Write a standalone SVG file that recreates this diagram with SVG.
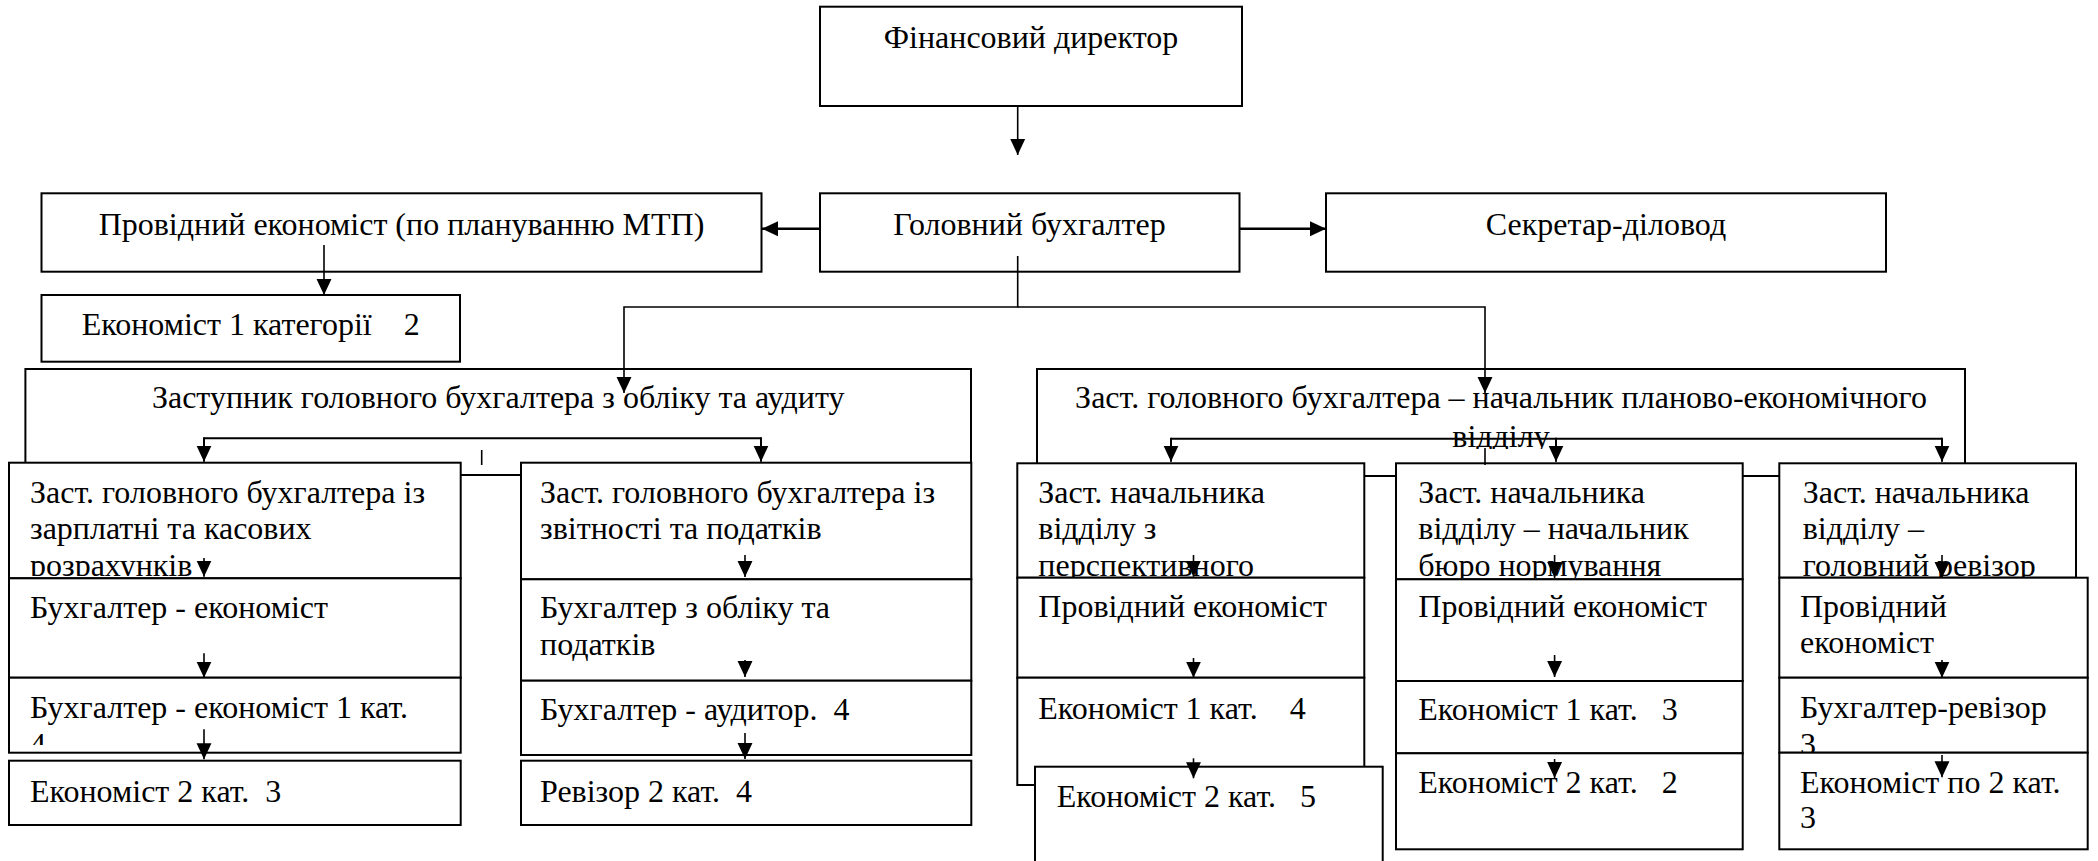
<svg xmlns="http://www.w3.org/2000/svg" width="2098" height="861" viewBox="0 0 2098 861">
<style>
.b{fill:#fff;stroke:#000;stroke-width:2}
.t{font-family:"Liberation Serif","Times New Roman","DejaVu Serif",serif;font-size:32px;fill:#000;white-space:pre}
.m{text-anchor:middle}
.c{fill:none;stroke:#000;stroke-width:1.6}
</style>
<defs>
<marker id="ah" markerUnits="userSpaceOnUse" markerWidth="16" markerHeight="16" viewBox="0 -7 15 14" refX="15" refY="0" orient="auto">
<path d="M0,-7 L15,0 L0,7 z" fill="#000"/>
</marker>
<clipPath id="cL1"><rect x="9" y="462" width="452" height="114"/></clipPath>
<clipPath id="cL3"><rect x="9" y="677" width="452" height="68"/></clipPath>
<clipPath id="cA1"><rect x="1017" y="463" width="347" height="114"/></clipPath>
<clipPath id="cB1"><rect x="1396" y="463" width="347" height="115"/></clipPath>
<clipPath id="cC1"><rect x="1779" y="463" width="297" height="114"/></clipPath>
<clipPath id="cTop"><rect x="1037" y="369" width="928" height="80"/></clipPath>
</defs>
<g id="n-fin"><rect class="b" x="820" y="6.7" width="422" height="99.3"/><text class="t m" x="1031" y="48.3">Фінансовий директор</text></g>
<g id="n-golovnyi"><rect class="b" x="820" y="193.3" width="419.5" height="78.4"/><text class="t m" x="1029.5" y="235">Головний бухгалтер</text></g>
<g id="n-providnyi"><rect class="b" x="41.5" y="193.3" width="720" height="78.4"/><text class="t m" x="401.5" y="235">Провідний економіст (по плануванню МТП)</text></g>
<g id="n-sekretar"><rect class="b" x="1326" y="193.3" width="560" height="78.4"/><text class="t m" x="1606" y="235">Секретар-діловод</text></g>
<g id="n-ek1kat"><rect class="b" x="41.5" y="295" width="418.5" height="66.7"/><text class="t m" x="250.7" y="335">Економіст 1 категорії    2</text></g>
<g id="n-zast-oblik"><rect class="b" x="25.4" y="369" width="945.6" height="106"/><text class="t m" x="498.2" y="408.3">Заступник головного бухгалтера з обліку та аудиту</text></g>
<g id="n-zast-plan"><rect class="b" x="1037" y="369" width="928" height="107"/><text class="t m" x="1501" y="408.3">Заст. головного бухгалтера – начальник планово-економічного</text><text class="t m" x="1501" y="446.7" clip-path="url(#cTop)">відділу</text></g>

<g id="n-L1"><rect class="b" x="9" y="462.7" width="451.7" height="115.6"/><g clip-path="url(#cL1)"><text class="t" x="30" y="502.7">Заст. головного бухгалтера із</text><text class="t" x="30" y="539.3">зарплатні та касових</text><text class="t" x="30" y="576">розрахунків</text></g></g>
<g id="n-L2"><rect class="b" x="9" y="578.3" width="451.7" height="99.4"/><text class="t" x="30" y="618.3">Бухгалтер - економіст</text></g>
<g id="n-L3"><rect class="b" x="9" y="677.7" width="451.7" height="75"/><g clip-path="url(#cL3)"><text class="t" x="30" y="718.3">Бухгалтер - економіст 1 кат.</text><text class="t" x="30" y="755">4</text></g></g>
<g id="n-L4"><rect class="b" x="9" y="760.7" width="451.7" height="64.3"/><text class="t" x="30" y="801.7">Економіст 2 кат.  3</text></g>

<g id="n-R1"><rect class="b" x="521" y="462.7" width="450.3" height="116.6"/><text class="t" x="540" y="502.7">Заст. головного бухгалтера із</text><text class="t" x="540" y="539.3">звітності та податків</text></g>
<g id="n-R2"><rect class="b" x="521" y="579.3" width="450.3" height="101.4"/><text class="t" x="540" y="618.3">Бухгалтер з обліку та</text><text class="t" x="540" y="655">податків</text></g>
<g id="n-R3"><rect class="b" x="521" y="680.7" width="450.3" height="74.3"/><text class="t" x="540" y="720">Бухгалтер - аудитор.  4</text></g>
<g id="n-R4"><rect class="b" x="521" y="760.7" width="450.3" height="64.3"/><text class="t" x="540" y="801.7">Ревізор 2 кат.  4</text></g>

<g id="n-A1"><rect class="b" x="1017.3" y="463.3" width="347" height="114.4"/><g clip-path="url(#cA1)"><text class="t" x="1038.3" y="502.7">Заст. начальника</text><text class="t" x="1038.3" y="539.3">відділу з</text><text class="t" x="1038.3" y="576">перспективного</text></g></g>
<g id="n-A2"><rect class="b" x="1017.3" y="577.7" width="347" height="100"/><text class="t" x="1038.3" y="616.7">Провідний економіст</text></g>
<g id="n-A3"><rect class="b" x="1017.3" y="677.7" width="347" height="107.3"/><text class="t" x="1038.3" y="719">Економіст 1 кат.    4</text></g>
<g id="n-A4"><rect class="b" x="1035" y="766.7" width="347.7" height="130"/><text class="t" x="1056.7" y="806.7">Економіст 2 кат.   5</text></g>

<g id="n-B1"><rect class="b" x="1396" y="463.3" width="346.7" height="116"/><g clip-path="url(#cB1)"><text class="t" x="1418.3" y="502.7">Заст. начальника</text><text class="t" x="1418.3" y="539.3">відділу – начальник</text><text class="t" x="1418.3" y="576">бюро нормування</text></g></g>
<g id="n-B2"><rect class="b" x="1396" y="579.3" width="346.7" height="101.7"/><text class="t" x="1418.3" y="616.7">Провідний економіст</text></g>
<g id="n-B3"><rect class="b" x="1396" y="681" width="346.7" height="72.3"/><text class="t" x="1418.3" y="720">Економіст 1 кат.   3</text></g>
<g id="n-B4"><rect class="b" x="1396" y="753.3" width="346.7" height="96"/><text class="t" x="1418.3" y="793.3">Економіст 2 кат.   2</text></g>

<g id="n-C1"><rect class="b" x="1779.3" y="463.3" width="296.7" height="114.4"/><g clip-path="url(#cC1)"><text class="t" x="1802.7" y="502.7">Заст. начальника</text><text class="t" x="1802.7" y="539.3">відділу –</text><text class="t" x="1802.7" y="576">головний ревізор</text></g></g>
<g id="n-C2"><rect class="b" x="1779.3" y="577.7" width="308.4" height="100"/><text class="t" x="1800" y="616.7">Провідний</text><text class="t" x="1800" y="653.3">економіст</text></g>
<g id="n-C3"><rect class="b" x="1779.3" y="677.7" width="308.4" height="75"/><text class="t" x="1800" y="718.3">Бухгалтер-ревізор</text><text class="t" x="1800" y="755">3</text></g>
<g id="n-C4"><rect class="b" x="1779.3" y="752.7" width="308.4" height="96.6"/><text class="t" x="1800" y="793.3">Економіст по 2 кат.</text><text class="t" x="1800" y="828.3">3</text></g>

<g id="connectors" class="c">
<path d="M1017.7,106 V155" marker-end="url(#ah)"/>
<path d="M820,228.7 H762" marker-end="url(#ah)" stroke-width="2.4"/>
<path d="M1239.5,228.7 H1326" marker-end="url(#ah)" stroke-width="2.4"/>
<path d="M324,245 V295" marker-end="url(#ah)"/>
<path d="M1017.7,256 V307 H624 V393" marker-end="url(#ah)"/>
<path d="M1017.7,307 H1485 V393" marker-end="url(#ah)"/>
<path d="M204,438.3 H761" stroke-width="2"/>
<path d="M204,437.3 V461.7" marker-end="url(#ah)" stroke-width="2"/>
<path d="M761,437.3 V461.7" marker-end="url(#ah)" stroke-width="2"/>
<path d="M481.7,450 V465"/>
<path d="M1171,438.7 H1942" stroke-width="2"/>
<path d="M1171,437.7 V461.7" marker-end="url(#ah)" stroke-width="2"/>
<path d="M1556,437.7 V461.7" marker-end="url(#ah)" stroke-width="2"/>
<path d="M1942,437.7 V461.7" marker-end="url(#ah)" stroke-width="2"/>
<path d="M1485,448 V465"/>
<path d="M204,558 V576.7" marker-end="url(#ah)"/>
<path d="M204,653.3 V677.7" marker-end="url(#ah)"/>
<path d="M204,729.3 V759.3" marker-end="url(#ah)"/>
<path d="M745,555 V577" marker-end="url(#ah)"/>
<path d="M745,660 V677" marker-end="url(#ah)"/>
<path d="M745,733 V759" marker-end="url(#ah)"/>
<path d="M1193.5,555 V576.7" marker-end="url(#ah)"/>
<path d="M1193.5,658 V677.7" marker-end="url(#ah)"/>
<path d="M1193.5,758.3 V778.3" marker-end="url(#ah)"/>
<path d="M1554.6,555 V578" marker-end="url(#ah)"/>
<path d="M1554.6,655 V677" marker-end="url(#ah)"/>
<path d="M1554.6,759 V778" marker-end="url(#ah)"/>
<path d="M1942,555 V578" marker-end="url(#ah)"/>
<path d="M1942,660 V677.7" marker-end="url(#ah)"/>
<path d="M1942,755 V777.3" marker-end="url(#ah)"/>
</g>
</svg>
